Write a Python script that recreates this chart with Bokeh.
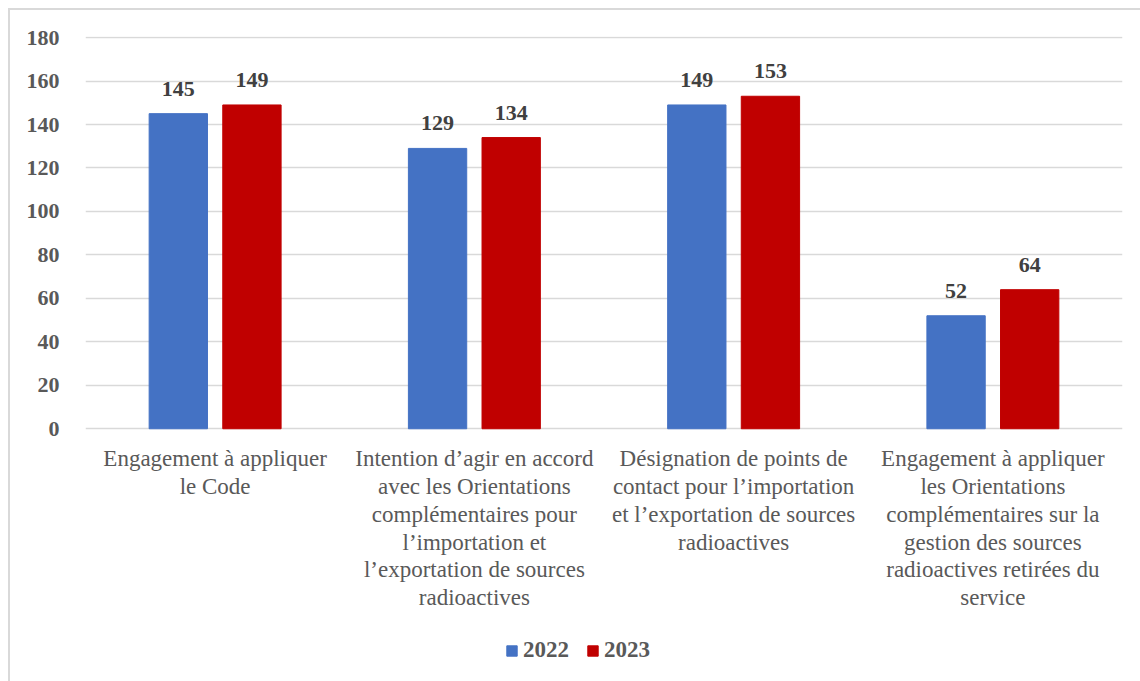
from bokeh.plotting import figure
from bokeh.models import ColumnDataSource, FactorRange, Legend, LegendItem, LabelSet, Range1d, FixedTicker
from bokeh.transform import dodge
from bokeh.embed import file_html
from bokeh.resources import INLINE

categories = [
    "Engagement à appliquer\nle Code",
    "Intention d’agir en accord\navec les Orientations\ncomplémentaires pour\nl’importation et\nl’exportation de sources\nradioactives",
    "Désignation de points de\ncontact pour l’importation\net l’exportation de sources\nradioactives",
    "Engagement à appliquer\nles Orientations\ncomplémentaires sur la\ngestion des sources\nradioactives retirées du\nservice",
]
values_2022 = [145, 129, 149, 52]
values_2023 = [149, 134, 153, 64]
series_names = ["2022", "2023"]
y_ticks = [0, 20, 40, 60, 80, 100, 120, 140, 160, 180]

BLUE = "#4472C4"
RED = "#C00000"
FONT = "Liberation Serif"
LINE_STEP = 27.8   # px between label lines
FIRST_LINE = 30    # px from baseline to centre of first label line

src = ColumnDataSource(data=dict(
    cat=categories,
    v22=values_2022,
    v23=values_2023,
    t22=[str(v) for v in values_2022],
    t23=[str(v) for v in values_2023],
))

# one row per label line so that every line is centred on its category
line_cat, line_txt, line_off = [], [], []
for c in categories:
    for i, ln in enumerate(c.split("\n")):
        line_cat.append(c)
        line_txt.append(ln)
        line_off.append(-(FIRST_LINE + i * LINE_STEP))
lines_src = ColumnDataSource(data=dict(cat=line_cat, txt=line_txt, off=line_off,
                                       base=[0] * len(line_cat)))

# frame extends below zero to host the category labels and the legend
p = figure(
    x_range=FactorRange(factors=categories, range_padding=0),
    y_range=Range1d(-114, 180.5),
    width=1140, height=681,
    output_backend="svg", toolbar_location=None,
    min_border_left=85, min_border_right=18, min_border_top=36, min_border_bottom=5,
)
p.styles = {"background": "linear-gradient(#d9d9d9,#d9d9d9) 8px 8px / 100% 2px no-repeat, "
                          "linear-gradient(#d9d9d9,#d9d9d9) 8px 8px / 2px 100% no-repeat, white"}
p.outline_line_color = None
p.background_fill_color = "white"
p.border_fill_alpha = 0

bw = 0.225
off = 0.142
r1 = p.vbar(x=dodge("cat", -off, range=p.x_range), top="v22", width=bw, source=src,
            fill_color=BLUE, line_color=BLUE)
r2 = p.vbar(x=dodge("cat", off, range=p.x_range), top="v23", width=bw, source=src,
            fill_color=RED, line_color=RED)

for col, tcol, o in (("v22", "t22", -off), ("v23", "t23", off)):
    lab = LabelSet(x=dodge("cat", o, range=p.x_range), y=col, text=tcol, source=src,
                   text_align="center", text_baseline="bottom", y_offset=18,
                   text_font=FONT, text_font_style="bold", text_font_size="22px",
                   text_color="#404040")
    p.add_layout(lab)

# category labels under the baseline
cat_labels = LabelSet(x="cat", y="base", text="txt", y_offset="off", source=lines_src,
                      text_align="center", text_baseline="middle",
                      text_font=FONT, text_font_size="23px", text_color="#595959")
p.add_layout(cat_labels)

# axes
p.yaxis.ticker = FixedTicker(ticks=y_ticks)
p.yaxis.axis_line_color = None
p.yaxis.major_tick_line_color = None
p.yaxis.minor_tick_line_color = None
p.yaxis.major_label_text_font = FONT
p.yaxis.major_label_text_font_style = "bold"
p.yaxis.major_label_text_font_size = "22px"
p.yaxis.major_label_text_color = "#595959"
p.yaxis.major_label_standoff = 20

p.xaxis.visible = False

p.xgrid.grid_line_color = None
p.ygrid.grid_line_color = "#d9d9d9"
p.ygrid.grid_line_width = 1.5

legend = Legend(
    items=[LegendItem(label=series_names[0], renderers=[r1]),
           LegendItem(label=series_names[1], renderers=[r2])],
    orientation="horizontal",
    location=(420, 13),
    label_text_font=FONT, label_text_font_style="bold", label_text_font_size="23px",
    label_text_color="#595959",
    glyph_width=13, glyph_height=13, label_standoff=5, spacing=17,
    padding=4, margin=0, border_line_color=None, background_fill_alpha=0,
)
p.add_layout(legend, "center")

open("out.html", "w").write(file_html(p, INLINE))
